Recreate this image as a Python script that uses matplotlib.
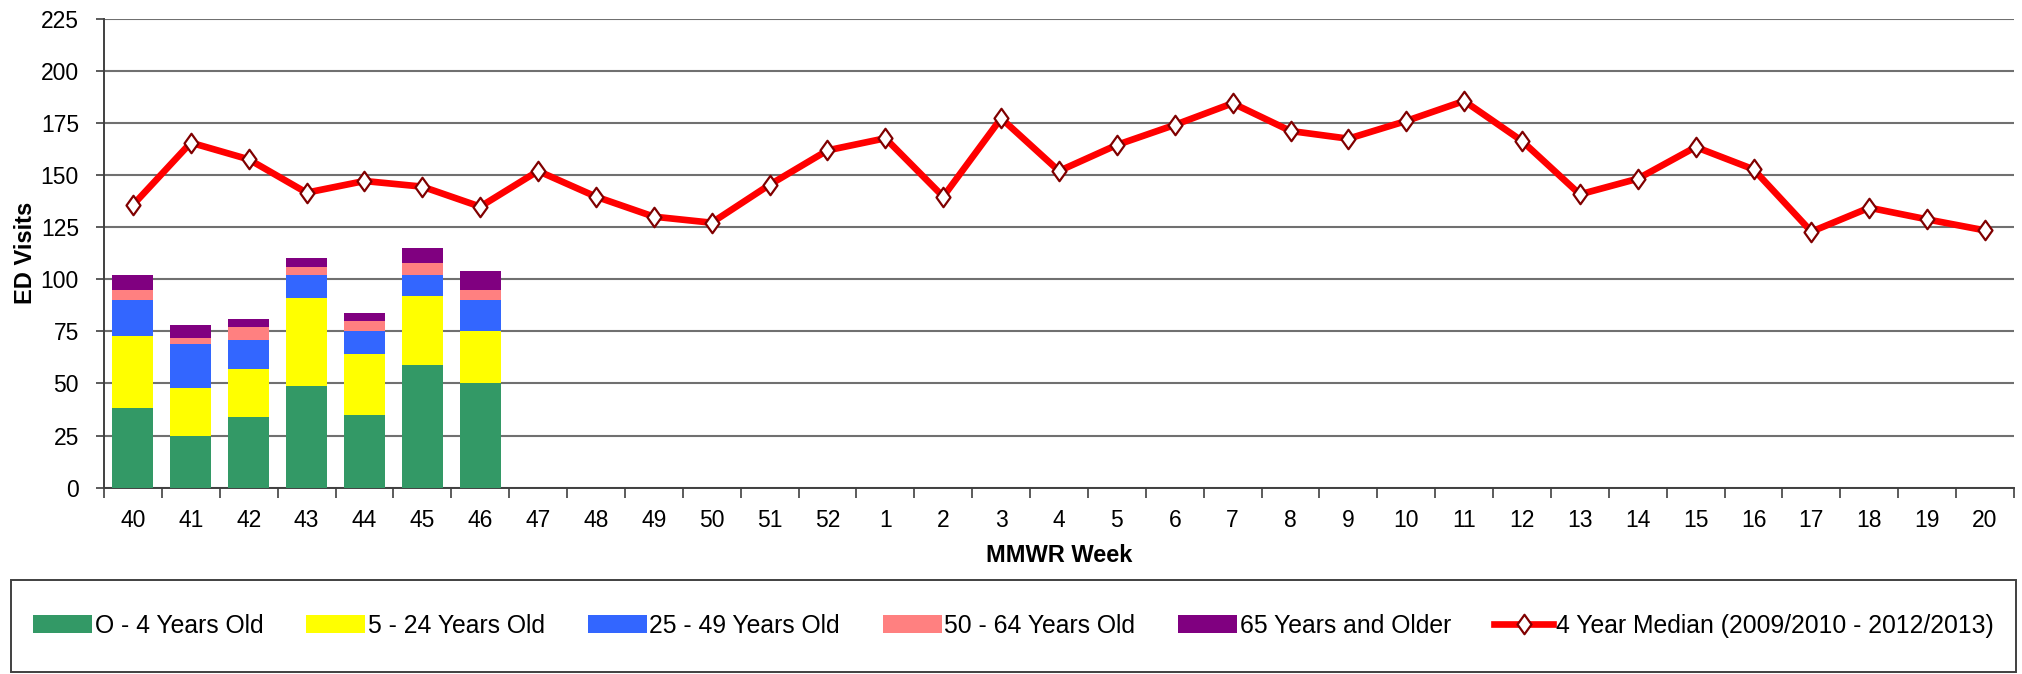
import matplotlib
matplotlib.use("Agg")
import matplotlib.pyplot as plt
from matplotlib.patches import Rectangle
from matplotlib.path import Path
import numpy as np

plt.rcParams['font.family'] = ['Liberation Sans', 'DejaVu Sans']

weeks = ['40', '41', '42', '43', '44', '45', '46', '47', '48', '49', '50', '51', '52',
         '1', '2', '3', '4', '5', '6', '7', '8', '9', '10', '11', '12', '13', '14',
         '15', '16', '17', '18', '19', '20']

age_0_4 = [38, 25, 34, 49, 35, 59, 50]
age_5_24 = [35, 23, 23, 42, 29, 33, 25]
age_25_49 = [17, 21, 14, 11, 11, 10, 15]
age_50_64 = [5, 3, 6, 4, 5, 6, 5]
age_65_up = [7, 6, 4, 4, 4, 7, 9]

median_4yr = [135.6, 165.5, 157.5, 141.5, 147.1, 144.4, 134.8, 151.9, 139.6, 130.0,
              127.1, 145.3, 161.8, 167.6, 139.6, 177.2, 151.9, 164.4, 174.0, 184.4,
              171.1, 167.4, 175.9, 185.5, 166.3, 140.7, 148.2, 163.4, 152.7, 122.8,
              134.3, 128.7, 123.4]

series_labels = ['O - 4 Years Old', '5 - 24 Years Old', '25 - 49 Years Old',
                 '50 - 64 Years Old', '65 Years and Older']
series_colors = ['#339966', '#FFFF00', '#3366FF', '#FF8080', '#800080']
line_label = '4 Year Median (2009/2010 - 2012/2013)'

diamond = Path([(0, 1), (0.72, 0), (0, -1), (-0.72, 0), (0, 1)],
               [Path.MOVETO, Path.LINETO, Path.LINETO, Path.LINETO, Path.CLOSEPOLY])

W, H = 2022, 674
fig = plt.figure(figsize=(W / 100, H / 100), dpi=100)
ax = fig.add_axes([104 / W, 1 - 487.7 / H, (2014 - 104) / W, (487.7 - 18.6) / H])

x_all = np.arange(len(weeks))
x_bar = np.arange(len(age_0_4))
bottom = np.zeros(len(age_0_4))
handles = []
for vals, col, lab in zip([age_0_4, age_5_24, age_25_49, age_50_64, age_65_up],
                          series_colors, series_labels):
    b = ax.bar(x_bar, vals, width=0.71, bottom=bottom, color=col, label=lab,
               zorder=3, linewidth=0)
    handles.append(b)
    bottom += np.array(vals)

ln, = ax.plot(x_all, median_4yr, color='#FF0000', lw=4.8, marker=diamond, markersize=14,
              markerfacecolor='white', markeredgecolor='#800000', markeredgewidth=1.6,
              zorder=4, label=line_label)
handles.append(ln)

ax.set_xlim(-0.5, len(weeks) - 0.5)
ax.set_ylim(0, 225)
ax.set_yticks(np.arange(0, 226, 25))
ax.set_xticks(x_all)
ax.set_xticklabels(weeks)
ax.set_xticks(np.arange(-0.5, len(weeks), 1), minor=True)
ax.tick_params(axis='x', which='major', length=0, pad=15, labelsize=16.5)
ax.tick_params(axis='x', which='minor', length=7, width=1.2, color='#404040')
ax.tick_params(axis='y', length=6, width=1.2, color='#404040', pad=12, labelsize=16.5)

ax.grid(axis='y', color='#707070', lw=1.5, zorder=0)
ax.set_axisbelow(True)
for s in ['top', 'right']:
    ax.spines[s].set_visible(False)
for s in ['left', 'bottom']:
    ax.spines[s].set_color('#404040')
    ax.spines[s].set_linewidth(1.4)

ax.set_ylabel('ED Visits', fontsize=17, fontweight='bold', labelpad=3)
fig.text(1059 / W, 1 - 556 / H, 'MMWR Week', fontsize=17, fontweight='bold',
         ha='center', va='center')

# legend frame
fig.patches.append(Rectangle((10.7 / W, 1 - 671.7 / H), (2015.7 - 10.7) / W, (671.7 - 580) / H,
                             transform=fig.transFigure, fill=False, edgecolor='#404040',
                             lw=1.4, zorder=1))
fig.legend(handles=handles, labels=series_labels + [line_label], loc='center',
           bbox_to_anchor=(10.7 / W, 1 - 671.7 / H, (2015.7 - 10.7) / W, (671.7 - 580) / H),
           mode='expand', ncol=6, frameon=False, fontsize=17.8, handlelength=2.4,
           handleheight=0.72, handletextpad=0.1, columnspacing=1.0, borderpad=0.4)

fig.savefig('out.png', dpi=100)
